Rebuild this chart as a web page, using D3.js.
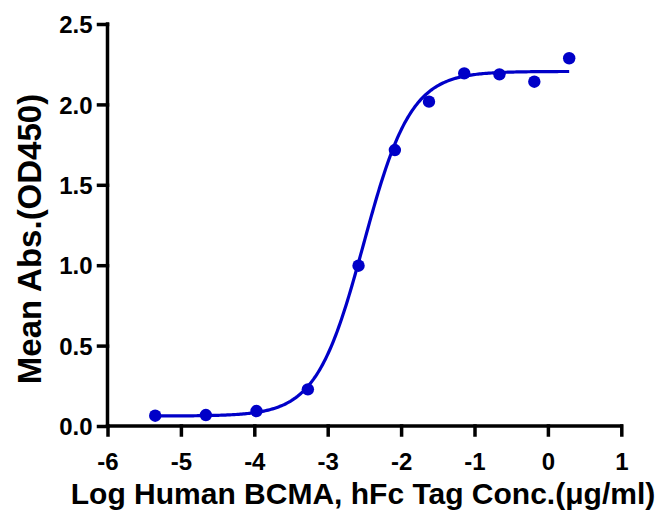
<!DOCTYPE html>
<html lang="en">
<head>
  <meta charset="UTF-8">
  <title>BCMA binding curve</title>
  <style>
    body {
      margin: 0;
      background: #fff;
    }

    svg text {
      font-family: "Liberation Sans", Arial, sans-serif;
      font-weight: bold;
      fill: #000;
    }

    .axis path,
    .axis line {
      stroke: #000;
      stroke-width: 3.5px;
    }
  </style>
  <script src="https://d3js.org/d3.v7.min.js"></script>
</head>
<body>
  <div id="chart"></div>

  <script>
    // -----------------------------
    // Data
    // -----------------------------
    const logConc = [-5.35, -4.66, -3.97, -3.27, -2.58, -2.085, -1.62, -1.14, -0.66, -0.185, 0.29];
    const meanAbs = [0.064, 0.068, 0.093, 0.228, 0.997, 1.716, 2.017, 2.193, 2.187, 2.141, 2.287];

    // 4PL fit parameters (bottom, top, logEC50, hill slope)
    const fitBottom = 0.062;
    const fitTop = 2.205;
    const fitLogEC50 = -2.51;
    const fitHill = 1.35;

    const xTicks = [-6, -5, -4, -3, -2, -1, 0, 1];
    const yTicks = [0.0, 0.5, 1.0, 1.5, 2.0, 2.5];

    const xTitle = "Log Human BCMA, hFc Tag Conc.(μg/ml)";
    const yTitle = "Mean Abs.(OD450)";
    const colour = "#0000C8";

    // -----------------------------
    // Setup
    // -----------------------------
    const width = 663;
    const height = 513;
    const margin = {left: 107.5, right: 663 - 621.3, top: 24, bottom: 513 - 426};

    const svg = d3.select("#chart").append("svg")
      .attr("width", width)
      .attr("height", height);

    const x = d3.scaleLinear().domain([-6, 1]).range([margin.left, width - margin.right]);
    const y = d3.scaleLinear().domain([0, 2.5]).range([height - margin.bottom, margin.top]);

    // Axes
    const xAxis = svg.append("g")
      .attr("class", "axis")
      .attr("transform", "translate(0," + y(0) + ")")
      .call(d3.axisBottom(x).tickValues(xTicks).tickFormat(d3.format("d")).tickSize(9).tickSizeOuter(0));

    xAxis.selectAll("text")
      .attr("dy", "0")
      .attr("y", 44)
      .style("font-size", "24px")
      .text(d => d < 0 ? "-" + Math.abs(d) : d);

    const yAxis = svg.append("g")
      .attr("class", "axis")
      .attr("transform", "translate(" + x(-6) + ",0)")
      .call(d3.axisLeft(y).tickValues(yTicks).tickFormat(d3.format(".1f")).tickSize(9).tickSizeOuter(0));

    yAxis.selectAll("text")
      .attr("x", -15)
      .attr("dy", "0.36em")
      .style("font-size", "24px");

    yAxis.select(".domain").attr("d", "M0," + y(2.5) + "V" + y(0));
    xAxis.select(".domain").attr("d", "M" + x(-6) + ",0H" + x(1));
    svg.selectAll(".axis path, .axis line").attr("stroke-linecap", "square");

    // Titles
    svg.append("text")
      .attr("x", 363)
      .attr("y", 504)
      .attr("text-anchor", "middle")
      .style("font-size", "30px")
      .text(xTitle);

    svg.append("text")
      .attr("transform", "translate(41,239) rotate(-90)")
      .attr("text-anchor", "middle")
      .style("font-size", "33px")
      .text(yTitle);

    // -----------------------------
    // Fitted curve
    // -----------------------------
    function fourPL(lx) {
      return fitBottom + (fitTop - fitBottom) / (1 + Math.pow(10, (fitLogEC50 - lx) * fitHill));
    }

    const curveX = d3.range(logConc[0], logConc[logConc.length - 1] + 0.001, 0.02);

    svg.append("path")
      .datum(curveX)
      .attr("fill", "none")
      .attr("stroke", colour)
      .attr("stroke-width", 3.2)
      .attr("d", d3.line().x(d => x(d)).y(d => y(fourPL(d))));

    // Points
    svg.append("g")
      .selectAll("circle")
      .data(logConc)
      .join("circle")
      .attr("cx", d => x(d))
      .attr("cy", (d, i) => y(meanAbs[i]))
      .attr("r", 6.2)
      .attr("fill", colour);
  </script>
</body>
</html>
